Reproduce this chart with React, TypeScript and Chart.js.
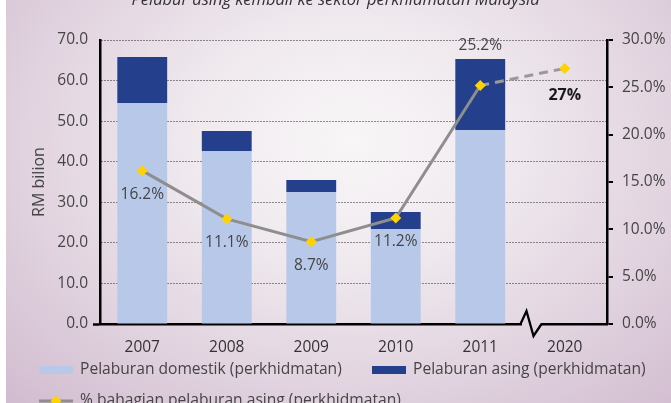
import React, { useEffect, useRef } from "react";
import { Chart, registerables } from "chart.js";

Chart.register(...registerables);

const TITLE = "Pelabur asing kembali ke sektor perkhidmatan Malaysia";
const Y_TITLE = "RM bilion";
const CATEGORIES = ["2007", "2008", "2009", "2010", "2011", "2020"];
const DOMESTIC = [54.5, 42.6, 32.5, 23.4, 47.8, null];
const FOREIGN = [11.3, 5.0, 3.0, 4.2, 17.5, null];
const SHARE = [16.2, 11.1, 8.7, 11.2, 25.2, 27];
const SHARE_LABELS = ["16.2%", "11.1%", "8.7%", "11.2%", "25.2%", "27%"];
const SERIES_NAMES = [
  "Pelaburan domestik (perkhidmatan)",
  "Pelaburan asing (perkhidmatan)",
  "% bahagian pelaburan asing (perkhidmatan)",
];

const FONT_FAMILY = '"Open Sans", "Noto Sans", sans-serif';
const C_DOM = "#b8c8e8";
const C_FOR = "#243f8c";
const C_LINE = "#8e8e8e";
const C_POINT = "#ffd200";
const C_TEXT = "#454545";

const W = 671;
const H = 430;
const OFFSET_Y = -14;

const labelsPlugin = {
  id: "shareLabels",
  afterDatasetsDraw(chart: any) {
    const ctx = chart.ctx;
    const lineMeta = chart.getDatasetMeta(2);
    const barMeta = chart.getDatasetMeta(1);
    ctx.save();
    ctx.textAlign = "center";
    ctx.textBaseline = "middle";
    lineMeta.data.forEach((pt: any, i: number) => {
      let y = pt.y + 24;
      ctx.font = `15.5px ${FONT_FAMILY}`;
      ctx.fillStyle = C_TEXT;
      if (i === 4) {
        const bar = barMeta.data[4];
        y = bar.y - 13;
      }
      if (i === 5) {
        ctx.font = `bold 16px ${FONT_FAMILY}`;
        ctx.fillStyle = "#1a1a1a";
        y = pt.y + 27;
      }
      ctx.fillText(SHARE_LABELS[i], pt.x, y);
    });
    ctx.restore();
  },
};

const breakPlugin = {
  id: "axisBreak",
  afterDraw(chart: any) {
    const ctx = chart.ctx;
    const xs = chart.scales.x;
    const yAxis = chart.chartArea.bottom;
    const mid = (xs.getPixelForValue(4) + xs.getPixelForValue(5)) / 2;
    const s = mid - 1;
    ctx.save();
    ctx.clearRect(s, yAxis - 2, 19, 4);
    ctx.beginPath();
    ctx.moveTo(s - 1, yAxis);
    ctx.lineTo(s + 5, yAxis - 13);
    ctx.lineTo(s + 12, yAxis + 12);
    ctx.lineTo(s + 20, yAxis);
    ctx.strokeStyle = "#000";
    ctx.lineWidth = 2.3;
    ctx.lineJoin = "miter";
    ctx.stroke();
    ctx.restore();
  },
};

const legendPlugin = {
  id: "customLegend",
  afterDraw(chart: any) {
    const ctx = chart.ctx;
    const ds = chart.data.datasets;
    ctx.save();
    ctx.font = `15.6px ${FONT_FAMILY}`;
    ctx.textBaseline = "middle";
    ctx.textAlign = "left";
    const row1 = 384;
    const row2 = 415;
    ctx.fillStyle = ds[0].backgroundColor;
    ctx.fillRect(39, row1 - 4, 34, 8);
    ctx.fillStyle = C_TEXT;
    ctx.fillText(ds[0].label, 80, row1);
    ctx.fillStyle = ds[1].backgroundColor;
    ctx.fillRect(372, row1 - 4, 34, 8);
    ctx.fillStyle = C_TEXT;
    ctx.fillText(ds[1].label, 413, row1);
    ctx.beginPath();
    ctx.moveTo(39, row2);
    ctx.lineTo(73, row2);
    ctx.strokeStyle = ds[2].borderColor;
    ctx.lineWidth = 3;
    ctx.stroke();
    ctx.beginPath();
    ctx.moveTo(56, row2 - 5.5);
    ctx.lineTo(61.5, row2);
    ctx.lineTo(56, row2 + 5.5);
    ctx.lineTo(50.5, row2);
    ctx.closePath();
    ctx.fillStyle = C_POINT;
    ctx.fill();
    ctx.fillStyle = C_TEXT;
    ctx.fillText(ds[2].label, 80, row2);
    ctx.restore();
  },
};

export default function App() {
  const ref = useRef<HTMLCanvasElement>(null);

  useEffect(() => {
    if (!ref.current) return;
    const font = { family: FONT_FAMILY, size: 15.5 };
    const chart = new Chart(ref.current, {
      type: "bar",
      data: {
        labels: CATEGORIES,
        datasets: [
          {
            type: "bar",
            label: SERIES_NAMES[0],
            data: DOMESTIC as any,
            backgroundColor: C_DOM,
            yAxisID: "y",
            stack: "s",
            order: 2,
            barPercentage: 0.59,
            categoryPercentage: 1,
          },
          {
            type: "bar",
            label: SERIES_NAMES[1],
            data: FOREIGN as any,
            backgroundColor: C_FOR,
            yAxisID: "y",
            stack: "s",
            order: 2,
            barPercentage: 0.59,
            categoryPercentage: 1,
          },
          {
            type: "line",
            label: SERIES_NAMES[2],
            data: SHARE,
            yAxisID: "y1",
            order: 0,
            borderColor: C_LINE,
            borderWidth: 3,
            segment: {
              borderDash: (c: any) => (c.p1DataIndex === 5 ? [9, 6] : undefined),
              borderColor: (c: any) => (c.p1DataIndex === 5 ? "#9a9a9a" : undefined),
            },
            pointStyle: "rectRot",
            pointRadius: 5.5,
            pointBackgroundColor: C_POINT,
            pointBorderColor: C_POINT,
            pointBorderWidth: 0,
            tension: 0,
          } as any,
        ],
      },
      options: {
        animation: false,
        responsive: false,
        maintainAspectRatio: false,
        layout: { padding: { left: 0, right: 0, top: 0, bottom: 62 } },
        plugins: {
          legend: { display: false },
          tooltip: { enabled: false },
          title: {
            display: true,
            text: TITLE,
            color: "#333",
            font: { family: FONT_FAMILY, size: 16.5, style: "italic", weight: "normal" },
            padding: { top: 4, bottom: 30.2 },
          },
        },
        scales: {
          x: {
            stacked: true,
            grid: { display: false },
            border: { display: true, color: "#000", width: 2.5 },
            ticks: { color: "#333", font, padding: 6 },
            afterFit(s: any) {
              s.height = 30;
            },
          },
          y: {
            position: "left",
            stacked: true,
            min: 0,
            max: 70,
            ticks: {
              stepSize: 10,
              color: C_TEXT,
              font,
              padding: 5,
              callback: (v: any) => Number(v).toFixed(1),
            },
            grid: {
              color: "#222",
              lineWidth: 1,
              drawTicks: true,
              tickLength: 7,
              tickWidth: 2.5,
              tickColor: (c: any) => (c.tick && c.tick.value === 0 ? "#000" : "rgba(0,0,0,0)"),
            },
            border: { color: "#000", width: 2.5, dash: [1, 2] },
            title: {
              display: true,
              text: Y_TITLE,
              color: C_TEXT,
              font: { family: FONT_FAMILY, size: 16 },
              padding: { top: 30, bottom: 0 },
            },
            afterFit(s: any) {
              s.width = 100;
            },
          },
          y1: {
            position: "right",
            min: 0,
            max: 30,
            ticks: {
              stepSize: 5,
              color: C_TEXT,
              font,
              padding: 9,
              callback: (v: any) => Number(v).toFixed(1) + "%",
            },
            grid: {
              drawOnChartArea: false,
              color: "#000",
              lineWidth: 2,
              tickLength: 6,
              tickWidth: 2,
              tickColor: "#000",
            },
            border: { color: "#000", width: 2.5 },
            afterFit(s: any) {
              s.width = 64;
            },
          },
        },
      } as any,
      plugins: [labelsPlugin, breakPlugin, legendPlugin],
    });
    return () => chart.destroy();
  }, []);

  return (
    <>
      <style>{`html,body{margin:0;padding:0;overflow:hidden;background:#fff;}`}</style>
      <div style={{ position: "relative", width: W, height: 403, overflow: "hidden" }}>
        <div
          style={{
            position: "absolute",
            left: 6,
            top: 0,
            width: W - 6,
            height: 403,
            background:
              "radial-gradient(ellipse 72% 90% at 52% 35%, #f8f6f7 0%, #f0eaef 32%, #e1d3df 68%, #d2bdd0 100%)",
          }}
        />
        <canvas
          ref={ref}
          width={W}
          height={H}
          style={{ position: "absolute", left: 0, top: OFFSET_Y, width: W, height: H }}
        />
      </div>
    </>
  );
}
